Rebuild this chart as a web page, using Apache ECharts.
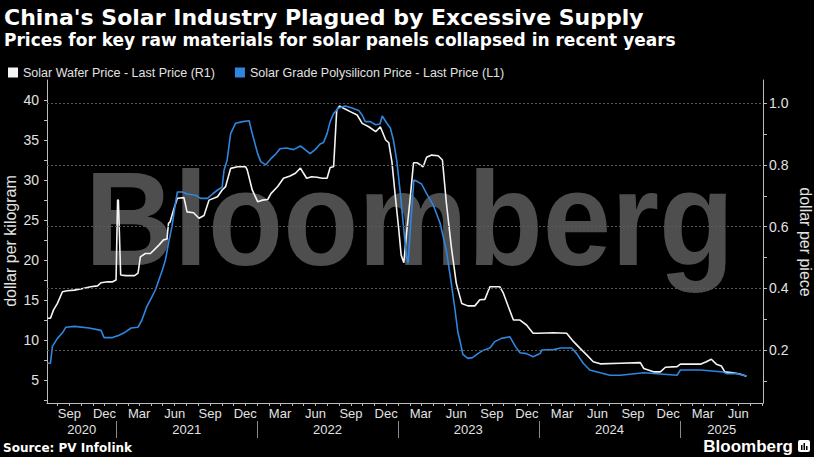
<!DOCTYPE html>
<html><head><meta charset="utf-8">
<script src="https://cdn.jsdelivr.net/npm/echarts@6/dist/echarts.min.js"></script>
<style>html,body{margin:0;padding:0;background:#000;}#c{width:814px;height:457px;}</style>
</head><body><div id="c"></div>
<script>
const titleText = "China's Solar Industry Plagued by Excessive Supply";
const subtitleText = "Prices for key raw materials for solar panels collapsed in recent years";
const sourceText = "Source: PV Infolink";
const waferName = "Solar Wafer Price - Last Price (R1)";
const polyName = "Solar Grade Polysilicon Price - Last Price (L1)";
const leftAxisName = "dollar per kilogram";
const rightAxisName = "dollar per piece";
const leftLabels = [5, 10, 15, 20, 25, 30, 35, 40];
const leftTicks = [2.5, 5, 7.5, 10, 12.5, 15, 17.5, 20, 22.5, 25, 27.5, 30, 32.5, 35, 37.5, 40];
const rightLabels = [0.2, 0.4, 0.6, 0.8, 1.0];
const rightTicks = [0.1, 0.2, 0.3, 0.4, 0.5, 0.6, 0.7, 0.8, 0.9, 1.0];
const monthNames = ["Jan","Feb","Mar","Apr","May","Jun","Jul","Aug","Sep","Oct","Nov","Dec"];
const yearBounds = ["2021-01-01","2022-01-01","2023-01-01","2024-01-01","2025-01-01"];
const yearLabelDates = ["2020-10-03","2021-07-02","2022-07-02","2023-07-02","2024-07-02","2025-04-19"];

const wafer = [
['2020-07-06',0.303],['2020-07-14',0.303],['2020-07-22',0.330],['2020-08-01',0.351],['2020-08-14',0.389],['2020-08-27',0.392],['2020-09-14',0.394],['2020-10-09',0.400],['2020-10-26',0.405],['2020-11-13',0.408],['2020-11-22',0.418],['2020-12-09',0.421],['2020-12-22',0.421],['2020-12-31',0.427],['2021-01-04',0.686],['2021-01-06',0.686],['2021-01-12',0.443],['2021-01-25',0.441],['2021-02-17',0.441],['2021-02-26',0.449],['2021-03-04',0.502],['2021-03-17',0.513],['2021-03-30',0.513],['2021-04-08',0.524],['2021-04-21',0.540],['2021-05-03',0.557],['2021-05-12',0.560],['2021-05-16',0.611],['2021-05-20',0.615],['2021-05-29',0.654],['2021-06-08',0.692],['2021-06-25',0.694],['2021-07-03',0.648],['2021-07-20',0.645],['2021-08-03',0.627],['2021-08-16',0.636],['2021-08-29',0.686],['2021-09-20',0.697],['2021-10-02',0.719],['2021-10-11',0.730],['2021-10-24',0.789],['2021-11-11',0.794],['2021-12-02',0.794],['2021-12-06',0.784],['2021-12-19',0.719],['2022-01-02',0.681],['2022-01-15',0.686],['2022-01-28',0.688],['2022-02-06',0.708],['2022-02-23',0.730],['2022-03-10',0.757],['2022-03-27',0.764],['2022-04-10',0.773],['2022-04-23',0.790],['2022-05-01',0.773],['2022-05-09',0.757],['2022-05-22',0.762],['2022-06-05',0.760],['2022-06-18',0.757],['2022-07-01',0.757],['2022-07-09',0.792],['2022-07-18',0.794],['2022-07-26',0.978],['2022-08-02',0.991],['2022-08-13',0.984],['2022-08-30',0.973],['2022-09-17',0.962],['2022-09-30',0.935],['2022-10-17',0.924],['2022-11-04',0.908],['2022-11-16',0.924],['2022-11-30',0.881],['2022-12-08',0.872],['2022-12-16',0.811],['2022-12-25',0.697],['2023-01-03',0.589],['2023-01-09',0.508],['2023-01-16',0.483],['2023-01-23',0.578],['2023-02-01',0.686],['2023-02-10',0.807],['2023-02-20',0.807],['2023-02-28',0.800],['2023-03-07',0.794],['2023-03-16',0.825],['2023-03-29',0.832],['2023-04-15',0.830],['2023-04-26',0.816],['2023-05-06',0.680],['2023-05-19',0.535],['2023-06-01',0.416],['2023-06-15',0.351],['2023-07-01',0.343],['2023-07-19',0.343],['2023-08-01',0.363],['2023-08-14',0.364],['2023-08-27',0.405],['2023-09-22',0.405],['2023-10-01',0.384],['2023-10-14',0.340],['2023-10-27',0.297],['2023-11-13',0.297],['2023-11-30',0.281],['2023-12-17',0.254],['2023-12-31',0.254],['2024-02-08',0.256],['2024-03-13',0.254],['2024-03-31',0.227],['2024-04-17',0.205],['2024-05-04',0.184],['2024-05-21',0.162],['2024-06-08',0.155],['2024-07-30',0.157],['2024-09-20',0.159],['2024-09-29',0.140],['2024-10-24',0.129],['2024-11-11',0.129],['2024-11-24',0.144],['2024-12-24',0.146],['2025-01-02',0.154],['2025-02-23',0.154],['2025-03-10',0.162],['2025-03-23',0.170],['2025-04-05',0.154],['2025-04-18',0.148],['2025-04-27',0.129],['2025-05-18',0.126],['2025-06-05',0.122],['2025-06-22',0.115]
];

const polysilicon = [
['2020-07-06',7.1],['2020-07-14',7.1],['2020-07-19',9.2],['2020-08-01',10.2],['2020-08-14',10.9],['2020-08-23',11.6],['2020-09-14',11.7],['2020-10-22',11.5],['2020-11-22',11.2],['2020-11-30',10.3],['2020-12-22',10.3],['2021-01-08',10.6],['2021-01-21',10.9],['2021-02-08',11.5],['2021-02-26',11.6],['2021-03-08',12.5],['2021-03-21',14.2],['2021-04-03',15.4],['2021-04-12',16.25],['2021-04-21',17.5],['2021-04-30',18.75],['2021-05-08',20],['2021-05-16',22.1],['2021-05-25',24.2],['2021-06-03',27.1],['2021-06-08',28.5],['2021-06-21',28.5],['2021-07-03',28.25],['2021-07-25',28.1],['2021-08-07',27.7],['2021-08-25',27.7],['2021-09-07',28.25],['2021-09-20',28.75],['2021-10-02',29.1],['2021-10-07',31.25],['2021-10-15',32.5],['2021-10-24',35.8],['2021-11-06',37.1],['2021-11-24',37.3],['2021-12-11',37.4],['2021-12-19',35.8],['2022-01-02',33.3],['2022-01-10',32.3],['2022-01-23',31.9],['2022-02-06',32.7],['2022-02-19',33.3],['2022-03-01',33.9],['2022-03-18',34],['2022-04-05',33.8],['2022-04-23',34.25],['2022-05-05',33.8],['2022-05-18',33.3],['2022-05-31',33.8],['2022-06-13',34.5],['2022-06-22',34.7],['2022-07-01',35.8],['2022-07-09',37.3],['2022-07-18',38.3],['2022-07-30',38.96],['2022-08-17',39.25],['2022-09-04',39.0],['2022-09-21',38.7],['2022-09-30',38.1],['2022-10-08',37.3],['2022-10-21',37.3],['2022-11-04',36.9],['2022-11-15',37.0],['2022-11-21',38],['2022-12-03',37.1],['2022-12-12',36.5],['2022-12-20',35],['2022-12-29',32.3],['2023-01-07',28.3],['2023-01-16',23.75],['2023-01-23',20.4],['2023-01-27',19.6],['2023-02-04',25.4],['2023-02-11',30],['2023-02-20',29.8],['2023-03-03',29.5],['2023-03-16',28.3],['2023-04-02',26.9],['2023-04-20',24.6],['2023-05-06',21.25],['2023-05-19',17.1],['2023-05-28',14],['2023-06-05',11],['2023-06-10',10],['2023-06-18',8.2],['2023-07-01',7.7],['2023-07-13',7.8],['2023-07-27',8.3],['2023-08-09',8.7],['2023-08-27',9.0],['2023-09-09',9.8],['2023-09-26',10.2],['2023-10-18',10.4],['2023-11-01',9.2],['2023-11-13',8.4],['2023-11-30',8.3],['2023-12-17',7.9],['2024-01-04',8.3],['2024-01-09',8.75],['2024-02-08',8.8],['2024-02-26',9.0],['2024-03-26',9.0],['2024-04-08',8.3],['2024-04-25',7.1],['2024-05-12',6.25],['2024-06-08',5.9],['2024-07-03',5.6],['2024-07-30',5.6],['2024-09-29',5.9],['2024-11-11',5.75],['2024-12-24',5.6],['2025-01-02',6.25],['2025-02-23',6.25],['2025-04-23',6.0],['2025-05-01',5.8],['2025-05-27',5.8],['2025-06-14',5.6],['2025-06-22',5.5]
];

const xMin = new Date(2020, 6, 5).getTime();
const xMax = new Date(2025, 7, 4).getTime();
const toTs = s => { const p = s.split('-').map(Number); return new Date(p[0], p[1]-1, p[2]).getTime(); };
const monthTicks = [];
for (let y = 2020; y <= 2025; y++) for (let m = 0; m < 12; m++) {
  const t = new Date(y, m, 1).getTime();
  if (t >= xMin && t <= xMax) monthTicks.push(t);
}
const monthLabelVals = monthTicks.filter(t => [2,5,8,11].includes(new Date(t).getMonth()));

const FONT = "'Liberation Sans', Arial, sans-serif";
const BOLDFONT = "'DejaVu Sans', Verdana, sans-serif";
const AXC = '#bdbdbd';
const TXC = '#e2e2e2';
const WHITE = '#f4f4f4';
const BLUE = '#2e86de';

const chart = echarts.init(document.getElementById('c'), null, {renderer: 'svg'});
chart.setOption({
  backgroundColor: '#000',
  animation: false,
  textStyle: {fontFamily: FONT},
  grid: {left: 47, right: 51, top: 80, bottom: 54, containLabel: false},
  legend: {
    left: 3, top: 61, icon: 'rect', itemWidth: 10, itemHeight: 10, itemGap: 20,
    textStyle: {color: TXC, fontSize: 12.5, fontFamily: FONT},
    data: [waferName, polyName]
  },
  xAxis: [{
    type: 'value', min: xMin, max: xMax, position: 'bottom',
    axisLine: {show: true, lineStyle: {color: AXC, width: 1}},
    axisTick: {show: true, length: 3, customValues: monthTicks, lineStyle: {color: AXC}},
    axisLabel: {show: true, customValues: monthLabelVals, margin: 4, color: TXC, fontSize: 13, fontFamily: FONT,
      formatter: v => monthNames[new Date(v).getMonth()]},
    splitLine: {show: false}
  }, {
    type: 'value', min: xMin, max: xMax, position: 'bottom', offset: 18,
    axisLine: {show: false},
    axisTick: {show: true, length: 17, customValues: yearBounds.map(toTs), lineStyle: {color: '#8a8a8a'}},
    axisLabel: {show: true, customValues: yearLabelDates.map(toTs), margin: 2, color: TXC, fontSize: 13, fontFamily: FONT,
      formatter: v => String(new Date(v).getFullYear())},
    splitLine: {show: false}
  }],
  yAxis: [{
    type: 'value', position: 'left', min: 2.125, max: 42.5,
    axisLine: {show: true, lineStyle: {color: AXC}},
    axisTick: {show: true, length: 3, customValues: leftTicks, lineStyle: {color: AXC}},
    axisLabel: {customValues: leftLabels, margin: 8, color: TXC, fontSize: 14, fontFamily: FONT},
    splitLine: {show: false}
  }, {
    type: 'value', position: 'right', min: 0.028, max: 1.0756,
    axisLine: {show: true, lineStyle: {color: AXC}},
    axisTick: {show: true, length: 4, customValues: rightTicks, lineStyle: {color: AXC}},
    axisLabel: {customValues: rightLabels, margin: 6, color: TXC, fontSize: 14, fontFamily: FONT,
      formatter: v => v.toFixed(1)},
    splitLine: {show: false}
  }],
  graphic: [
    {type: 'text', z: -10, x: 85, y: 219, scaleX: 0.925,
      style: {text: 'Bloomberg', fill: '#4e4e4e', font: "bold 133px 'Liberation Sans', Arial, sans-serif", textAlign: 'left', textVerticalAlign: 'middle'}},
    {type: 'text', x: 4, y: 6, style: {text: titleText, fill: '#ffffff', font: "bold 22px " + BOLDFONT, textVerticalAlign: 'top'}},
    {type: 'text', x: 4, y: 31, style: {text: subtitleText, fill: '#ffffff', font: "bold 17px " + BOLDFONT, textVerticalAlign: 'top'}},
    {type: 'text', x: 10, y: 241, rotation: Math.PI/2,
      style: {text: leftAxisName, fill: TXC, font: "16px 'Liberation Sans', Arial, sans-serif", textAlign: 'center', textVerticalAlign: 'middle'}},
    {type: 'text', x: 805, y: 242, rotation: -Math.PI/2,
      style: {text: rightAxisName, fill: TXC, font: "16px 'Liberation Sans', Arial, sans-serif", textAlign: 'center', textVerticalAlign: 'middle'}},
    {type: 'text', x: 3, y: 448, style: {text: sourceText, fill: '#ffffff', font: "bold 12px " + BOLDFONT, textVerticalAlign: 'middle'}},
    {type: 'text', x: 793, y: 446, style: {text: 'Bloomberg', fill: '#ffffff', font: "bold 17px 'Liberation Sans', Arial, sans-serif", textAlign: 'right', textVerticalAlign: 'middle'}},
    {type: 'group', x: 798, y: 440, children: [
      {type: 'rect', shape: {x: 0, y: 0, width: 12, height: 12, r: 2}, style: {fill: '#ffffff'}},
      {type: 'rect', shape: {x: 3, y: 5, width: 1.5, height: 5}, style: {fill: '#000'}},
      {type: 'rect', shape: {x: 5.5, y: 3, width: 1.5, height: 7}, style: {fill: '#000'}},
      {type: 'rect', shape: {x: 8, y: 6, width: 1.5, height: 4}, style: {fill: '#000'}}
    ]}
  ],
  series: [{
    name: waferName, type: 'line', xAxisIndex: 0, yAxisIndex: 1,
    data: wafer.map(d => [toTs(d[0]), d[1]]),
    showSymbol: false, symbol: 'none', color: WHITE,
    lineStyle: {color: WHITE, width: 1.6}, z: 3,
    markLine: {
      silent: true, symbol: 'none', label: {show: false}, animation: false,
      lineStyle: {color: '#5a5a5a', type: [2, 2], width: 1},
      data: rightLabels.map(v => ({yAxis: v}))
    }
  }, {
    name: polyName, type: 'line', xAxisIndex: 0, yAxisIndex: 0,
    data: polysilicon.map(d => [toTs(d[0]), d[1]]),
    showSymbol: false, symbol: 'none', color: BLUE,
    lineStyle: {color: BLUE, width: 1.6}, z: 4
  }]
});
</script>
</body></html>
